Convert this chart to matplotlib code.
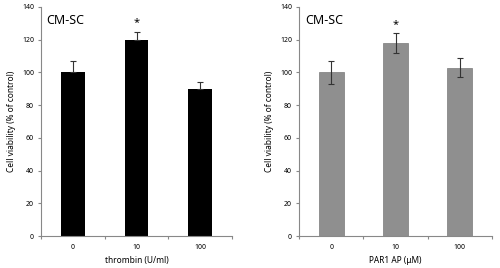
import matplotlib
matplotlib.use("Agg")
import matplotlib.pyplot as plt

categories = ["0", "10", "100"]
thrombin_mean = [100, 120, 90]
thrombin_err = [7, 5, 4]
par1_mean = [100, 118, 103]
par1_err = [7, 6, 6]
yticks = [0, 20, 40, 60, 80, 100, 120, 140]

plt.rcParams['font.family'] = ['Noto Sans', 'DejaVu Sans']

fig = plt.figure(figsize=(5, 2.68), dpi=100)
ax1 = fig.add_axes([0.082, 0.119, 0.382, 0.855])
ax2 = fig.add_axes([0.598, 0.119, 0.386, 0.855])

x = range(len(categories))


def style(ax, xlabel):
    ax.set_xlim(-0.5, 2.5)
    ax.set_ylim(0, 140)
    ax.set_yticks(yticks)
    ax.set_xticks([-0.5, 0.5, 1.5, 2.5])
    ax.set_xticklabels([])
    ax.set_xticks(list(x), minor=True)
    ax.set_xticklabels(categories, minor=True)
    ax.tick_params(axis='x', which='minor', length=0, labelsize=5, pad=6)
    ax.tick_params(axis='x', which='major', length=2, direction='out', color='#888888')
    ax.tick_params(axis='y', length=2, labelsize=5, color='#888888', pad=3)
    for s in ['top', 'right']:
        ax.spines[s].set_visible(False)
    for s in ['left', 'bottom']:
        ax.spines[s].set_color('#888888')
        ax.spines[s].set_linewidth(0.8)
    ax.set_ylabel('Cell viability (% of control)', fontsize=6, labelpad=4)
    ax.set_xlabel(xlabel, fontsize=6, labelpad=3)
    ax.text(0.03, 0.94, 'CM-SC', transform=ax.transAxes, fontsize=9,
            ha='left', va='center')


ax1.bar(x, thrombin_mean, width=0.37, color='black')
ax1.errorbar(x, thrombin_mean, yerr=[[0, 0, 0], thrombin_err], fmt='none',
             ecolor='#333333', elinewidth=0.8, capsize=2, capthick=0.8)
ax1.text(1, thrombin_mean[1] + thrombin_err[1] + 2, '*', ha='center', va='bottom', fontsize=8)
style(ax1, 'thrombin (U/ml)')

ax2.bar(x, par1_mean, width=0.39, color='#8f8f8f', edgecolor='#7a7a7a', linewidth=0.5)
ax2.errorbar(x, par1_mean, yerr=par1_err, fmt='none',
             ecolor='#333333', elinewidth=0.8, capsize=2, capthick=0.8)
ax2.text(1, par1_mean[1] + par1_err[1] + 2, '*', ha='center', va='bottom', fontsize=8)
style(ax2, 'PAR1 AP (μM)')

fig.savefig('out.png', dpi=100)
